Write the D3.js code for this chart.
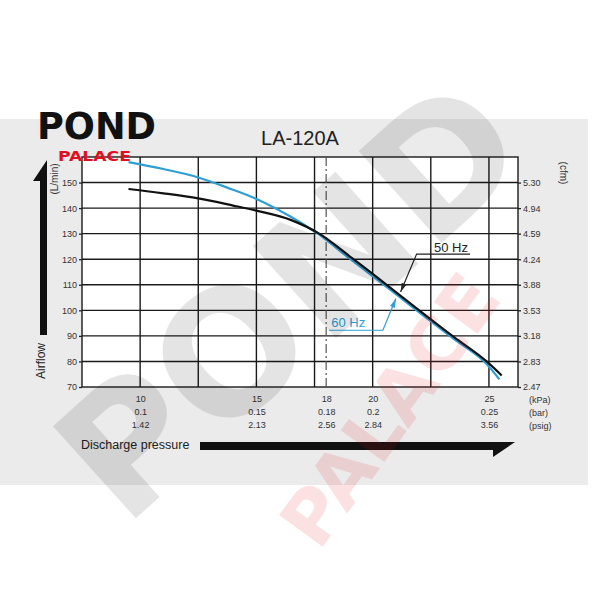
<!DOCTYPE html>
<head>
  <meta charset="utf-8">
  <script src="https://d3js.org/d3.v7.min.js"></script>
  <style>
    body { margin:0; background:#fff; }
    svg { font-family: "Liberation Sans", Arial, sans-serif; }
    .tick text { fill:#333; font-size:9px; }
    .tick line { stroke:#222; stroke-width:1.3; }
  </style>
</head>
<body>
<svg width="600" height="600"></svg>

<script>
  // values
  var pressure50 = [9.5, 11, 12.5, 14, 15, 16.5, 17.7, 19.1, 20.6, 22, 23.5, 24.9, 25.55];
  var airflow50  = [147.5, 145.8, 143.8, 141, 139, 135.3, 130, 120.5, 110, 100, 89.5, 80, 74.5];
  var pressure60 = [9.5, 11, 12.5, 13.9, 15, 16.5, 17.7, 19.1, 20.6, 22, 23.5, 24.9, 25.45];
  var airflow60  = [158, 155.3, 152, 147.5, 143.6, 136.5, 129.6, 119.6, 109.2, 99.2, 88.7, 79, 73];

  var airflowTicks = [70, 80, 90, 100, 110, 120, 130, 140, 150];
  var cfmLabels    = ["2.47", "2.83", "3.18", "3.53", "3.88", "4.24", "4.59", "4.94", "5.30"];
  var kpaTicks     = [10, 15, 18, 20, 25];
  var barLabels    = ["0.1", "0.15", "0.18", "0.2", "0.25"];
  var psigLabels   = ["1.42", "2.13", "2.56", "2.84", "3.56"];
  var unitLabels   = ["(kPa)", "(bar)", "(psig)"];
  var gridKpa      = [10, 12.5, 15, 17.5, 20, 22.5, 25];
  var gridFlow     = [80, 90, 100, 110, 120, 130, 140, 150];

  var svg = d3.select("svg");

  var x = d3.scaleLinear().domain([7.5, 26.25]).range([82, 518]);
  var y = d3.scaleLinear().domain([70, 160]).range([387, 157]);

  // background band
  svg.append("rect").attr("x", 0).attr("y", 119).attr("width", 588).attr("height", 366)
     .attr("fill", "#ebebeb");

  // title
  svg.append("text").attr("x", 300).attr("y", 145).attr("text-anchor", "middle")
     .style("font-size", "20px").attr("fill", "#222").text("LA-120A");

  // plot frame + grid
  var g = svg.append("g");
  g.append("rect").attr("x", x(7.5)).attr("y", y(160))
   .attr("width", x(26.25) - x(7.5)).attr("height", y(70) - y(160))
   .attr("fill", "#fff").attr("stroke", "#1a1a1a").attr("stroke-width", 1.4);

  g.selectAll("line.vg").data(gridKpa).enter().append("line")
   .attr("x1", d => x(d)).attr("x2", d => x(d))
   .attr("y1", y(160)).attr("y2", y(70))
   .attr("stroke", "#1a1a1a").attr("stroke-width", 1.4);

  g.selectAll("line.hg").data(gridFlow).enter().append("line")
   .attr("x1", x(7.5)).attr("x2", x(26.25))
   .attr("y1", d => y(d)).attr("y2", d => y(d))
   .attr("stroke", "#1a1a1a").attr("stroke-width", 1.4);

  // rated pressure line
  g.append("line").attr("x1", x(18)).attr("x2", x(18))
   .attr("y1", y(160)).attr("y2", y(70))
   .attr("stroke", "#555").attr("stroke-width", 1.2)
   .attr("stroke-dasharray", "9,3,2,3");

  // axes
  var left = svg.append("g").attr("transform", "translate(" + x(7.5) + ",0)")
     .call(d3.axisLeft(y).tickValues(airflowTicks).tickSize(3).tickPadding(2));
  left.select(".domain").remove();

  var right = svg.append("g").attr("transform", "translate(" + x(26.25) + ",0)")
     .call(d3.axisRight(y).tickValues(airflowTicks).tickSize(3).tickPadding(2)
       .tickFormat(function(d, i) { return cfmLabels[i]; }));
  right.select(".domain").remove();

  var rows = [kpaTicks.map(String), barLabels, psigLabels];
  rows.forEach(function(labels, r) {
    var ax = svg.append("g").attr("transform", "translate(0," + (y(70) + r * 13) + ")")
       .call(d3.axisBottom(x).tickValues(kpaTicks).tickSize(0).tickPadding(9)
         .tickFormat(function(d, i) { return labels[i]; }));
    ax.select(".domain").remove();
    svg.append("text").attr("x", x(26.25) + 11).attr("y", y(70) + r * 13 + 15.5)
       .style("font-size", "9px").attr("fill", "#333").text(unitLabels[r]);
  });

  // axis titles
  svg.append("text").attr("transform", "translate(58,179) rotate(-90)")
     .attr("text-anchor", "middle").style("font-size", "10px").attr("fill", "#333").text("(L/min)");
  svg.append("text").attr("transform", "translate(560,173) rotate(90)")
     .attr("text-anchor", "middle").style("font-size", "10px").attr("fill", "#333").text("(cfm)");
  svg.append("text").attr("transform", "translate(45,361) rotate(-90)")
     .attr("text-anchor", "middle").style("font-size", "12px").attr("fill", "#222").text("Airflow");
  svg.append("text").attr("x", 81).attr("y", 449)
     .style("font-size", "12.5px").attr("fill", "#222").text("Discharge pressure");

  // direction arrows
  svg.append("path").attr("d", "M40,335H47V160L33,181H40Z").attr("fill", "#111");
  svg.append("path").attr("d", "M200,442H515L493,457V450H200Z").attr("fill", "#111");

  // curves
  var line = d3.line().x(d => x(d[0])).y(d => y(d[1])).curve(d3.curveMonotoneX);
  var data60 = d3.zip(pressure60, airflow60);
  var data50 = d3.zip(pressure50, airflow50);
  g.append("path").datum(data60).attr("d", line)
   .attr("fill", "none").attr("stroke", "#2e9fd6").attr("stroke-width", 2.2);
  g.append("path").datum(data50).attr("d", line)
   .attr("fill", "none").attr("stroke", "#111").attr("stroke-width", 2.2);

  // leader callouts (in data units): text position, underline [elbow, far end, level], arrow tip
  function callout(label, color, textAt, underline, tip) {
    svg.append("text").attr("x", x(textAt[0])).attr("y", y(textAt[1]))
       .style("font-size", "13px").attr("fill", color).text(label);
    var tx = x(tip[0]), ty = y(tip[1]);
    var ex = x(underline[0]), ey = y(underline[2]);
    svg.append("path")
       .attr("d", "M" + x(underline[1]) + "," + ey + "H" + ex + "L" + tx + "," + ty)
       .attr("fill", "none").attr("stroke", color).attr("stroke-width", 1.2);
    var a = Math.atan2(ty - ey, tx - ex);
    var len = 9, w = 2.6;
    var bx = tx - len * Math.cos(a), by = ty - len * Math.sin(a);
    svg.append("path")
       .attr("d", "M" + tx + "," + ty +
             "L" + (bx - w * Math.sin(a)) + "," + (by + w * Math.cos(a)) +
             "L" + (bx + w * Math.sin(a)) + "," + (by - w * Math.cos(a)) + "Z")
       .attr("fill", color);
  }
  callout("50 Hz", "#222", [22.64, 122.8], [21.89, 24.19, 122.0], [21.2, 107.2]);
  callout("60 Hz", "#2e9fd6", [18.22, 93.5], [20.44, 18.12, 92.2], [21.0, 104.6]);

  // logo (sits over the plot's top edge)
  svg.append("text").attr("x", 37).attr("y", 139)
     .attr("textLength", 119).attr("lengthAdjust", "spacingAndGlyphs")
     .style("font-family", "DejaVu Sans").style("font-weight", "bold")
     .style("font-size", "38px").attr("fill", "#111").text("POND");
  svg.append("text").attr("x", 58).attr("y", 161)
     .attr("textLength", 73).attr("lengthAdjust", "spacingAndGlyphs")
     .style("font-family", "DejaVu Sans").style("font-weight", "bold")
     .style("font-size", "14px").attr("fill", "#e2101e").text("PALACE");

  // watermark
  svg.append("text").attr("transform", "translate(290,300) rotate(-42)")
     .attr("text-anchor", "middle").attr("dominant-baseline", "central")
     .style("font-family", "DejaVu Sans").style("font-weight", "bold")
     .style("font-size", "170px").attr("fill", "#000").attr("opacity", 0.1)
     .text("POND");
  svg.append("text").attr("transform", "translate(390,410) rotate(-54)")
     .attr("text-anchor", "middle").attr("dominant-baseline", "central")
     .style("font-family", "DejaVu Sans").style("font-weight", "bold")
     .style("font-size", "74px").attr("fill", "#e8101e").attr("opacity", 0.12)
     .text("PALACE");
</script>
</body>
